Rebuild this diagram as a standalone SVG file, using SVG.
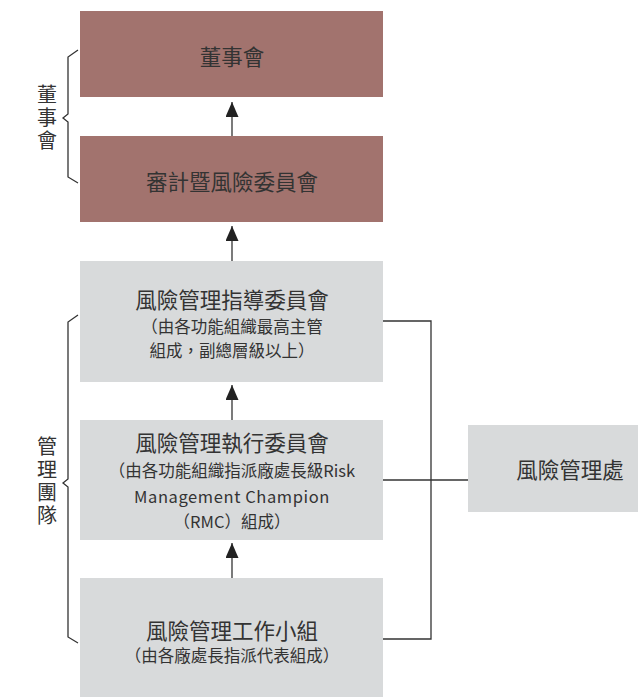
<svg xmlns="http://www.w3.org/2000/svg" width="638" height="697" viewBox="0 0 638 697">
<style>
text{font-family:"Noto Sans CJK TC","Noto Sans",sans-serif;fill:#333;text-anchor:middle;dominant-baseline:central}
.t{font-size:21.5px}
.s{font-size:16.5px}
.v{font-size:20px;writing-mode:vertical-rl;letter-spacing:3px}
.red{fill:#a2736e}
.gray{fill:#d8dadb}
.ln{stroke:#333;stroke-width:1.3;fill:none}
</style>
<defs>
<marker id="ah" markerWidth="15" markerHeight="13" refX="15" refY="6.5" orient="auto" markerUnits="userSpaceOnUse" viewBox="0 0 15 13">
<path d="M0,0 L15,6.5 L0,13 Z" fill="#222"/>
</marker>
</defs>
<g id="board"><rect class="red" x="80" y="11" width="303" height="86"/><text class="t" x="232" y="55">董事會</text></g>
<g id="audit"><rect class="red" x="80" y="136" width="303" height="86"/><text class="t" x="232" y="180">審計暨風險委員會</text></g>
<g id="steering"><rect class="gray" x="80" y="261" width="303" height="121"/>
<text class="t" x="232" y="298">風險管理指導委員會</text>
<text class="s" x="232" y="326">（由各功能組織最高主管</text>
<text class="s" x="232" y="350">組成，副總層級以上）</text></g>
<g id="exec"><rect class="gray" x="80" y="420" width="303" height="120"/>
<text class="t" x="232" y="441">風險管理執行委員會</text>
<text class="s" x="232" y="470">（由各功能組織指派廠處長級Risk</text>
<text class="s" x="232" y="496" letter-spacing="0.6">Management Champion</text>
<text class="s" x="232" y="521">（RMC）組成）</text></g>
<g id="working"><rect class="gray" x="80" y="578" width="303" height="119"/>
<text x="232" y="629"><tspan class="t" x="232" y="629">風險管理工作小組</tspan><tspan class="s" x="232" y="655">（由各廠處長指派代表組成）</tspan></text></g>
<g id="rmd"><rect class="gray" x="468" y="425" width="170" height="87"/><text class="t" x="570" y="468">風險管理處</text></g>
<g id="labels">
<text class="v" x="47" y="119">董事會</text>
<text class="v" x="47" y="482">管理團隊</text>
</g>
<g id="connectors">
<line class="ln" x1="232" y1="136" x2="232" y2="102" marker-end="url(#ah)"/>
<line class="ln" x1="232" y1="261" x2="232" y2="226" marker-end="url(#ah)"/>
<line class="ln" x1="232" y1="420" x2="232" y2="385" marker-end="url(#ah)"/>
<line class="ln" x1="232" y1="578" x2="232" y2="543" marker-end="url(#ah)"/>
<polyline class="ln" points="383,321 431,321 431,639 383,639"/>
<line class="ln" x1="383" y1="480" x2="468" y2="480"/>
<polyline class="ln" points="78,50 68,57 68,114 63,118 68,122 68,177 78,183"/>
<polyline class="ln" points="78,315 68,322 68,479 63,483 68,487 68,637 78,643"/>
</g>
</svg>
